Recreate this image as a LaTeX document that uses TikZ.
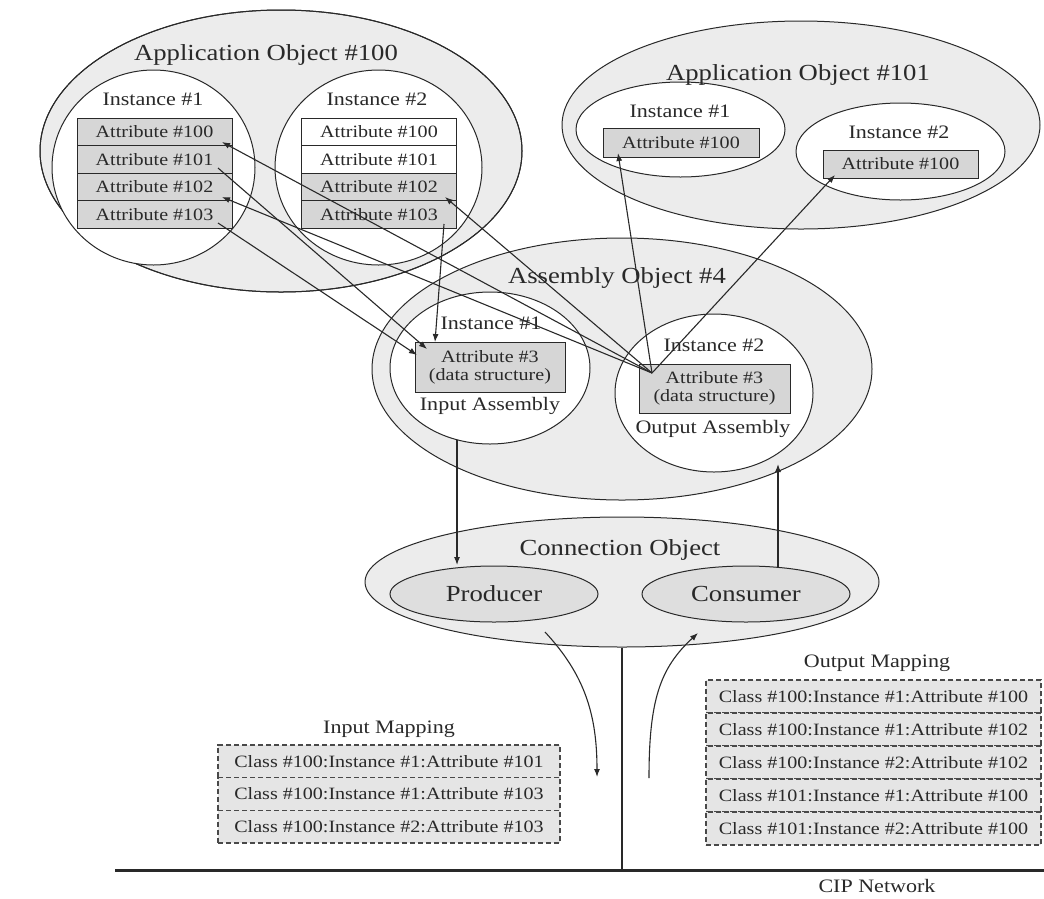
\documentclass[tikz,border=0pt]{standalone}
\usepackage{fontspec}
\setmainfont{Liberation Serif}[FakeStretch=1.16]
\usetikzlibrary{arrows.meta,shapes.geometric}
\definecolor{ink}{gray}{0.16}
\definecolor{objfill}{gray}{0.925}
\definecolor{attrfill}{gray}{0.84}
\definecolor{endfill}{gray}{0.87}
\definecolor{mapfill}{gray}{0.9}
\newcommand{\titlesize}{\fontsize{23}{26}\selectfont}
\newcommand{\labelsize}{\fontsize{19}{22}\selectfont}
\newcommand{\attrsize}{\fontsize{17.3}{18}\selectfont}

\begin{document}
\begin{tikzpicture}[x=1pt,y=-1pt,
  every node/.style={text=ink},
  obj/.style={ellipse, draw=ink, line width=1pt, fill=objfill, inner sep=0pt},
  inst/.style={ellipse, draw=ink, line width=1pt, fill=white, inner sep=0pt},
  ring/.style={ellipse, draw=ink, line width=1pt, inner sep=0pt},
  endpt/.style={ellipse, draw=ink, line width=1pt, fill=endfill, inner sep=0pt,
    minimum width=208pt, minimum height=56pt, font=\titlesize, text depth=0pt},
  attr/.style={rectangle, draw=ink, line width=1pt, fill=attrfill, minimum width=155pt,
    minimum height=27.5pt, inner sep=0pt, font=\attrsize, text height=11.5pt, text depth=0pt},
  plain/.style={attr, fill=white},
  packed/.style={rectangle, draw=ink, line width=1pt, fill=attrfill, align=center,
    inner sep=0pt, font=\attrsize},
  map/.style={rectangle, draw=ink!85, dash pattern=on 5pt off 3pt, line width=1.2pt,
    fill=mapfill, inner sep=0pt, font=\attrsize, text height=11.5pt, text depth=0pt},
  title/.style={font=\titlesize, anchor=base},
  lbl/.style={font=\labelsize, anchor=base},
  link/.style={draw=ink, line width=1.1pt, -{Latex[length=8pt,width=6pt]}},
]
\useasboundingbox (0,0) rectangle (1044,898);

% ---- object ellipses ----
\node[obj, minimum width=482pt, minimum height=282pt] (app100) at (281,151) {};
\node[obj, minimum width=478pt, minimum height=208pt] (app101) at (801,125) {};
\node[obj, minimum width=500pt, minimum height=262pt] (asm) at (622,369) {};
\node[ring, minimum width=482pt, minimum height=282pt] (app100rim) at (281,151) {};
\node[obj, minimum width=514pt, minimum height=130pt] (conn) at (622,582) {};

% ---- instances ----
\node[inst, minimum width=203pt, minimum height=195pt] (i1) at (153.5,167.5) {};
\node[inst, minimum width=207pt, minimum height=195pt] (i2) at (378.5,167.5) {};
\node[inst, minimum width=209pt, minimum height=95pt] (j1) at (680.5,129.5) {};
\node[inst, minimum width=209pt, minimum height=97pt] (j2) at (900.5,151.5) {};
\node[inst, minimum width=200pt, minimum height=152pt] (k1) at (490,368) {};
\node[inst, minimum width=198pt, minimum height=158pt] (k2) at (714,393) {};

% ---- titles ----
\node[title] (t100) at (266,60) {Application Object \#100};
\node[title] (t101) at (798,80) {Application Object \#101};
\node[title] (tasm) at (617,283) {Assembly Object \#4};
\node[title] (tconn) at (620,555) {Connection Object};

% ---- instance labels ----
\node[lbl] (li1) at (153,105) {Instance \#1};
\node[lbl] (li2) at (377,105) {Instance \#2};
\node[lbl] (lj1) at (680,117) {Instance \#1};
\node[lbl] (lj2) at (899,138) {Instance \#2};
\node[lbl] (lk1) at (491,329) {Instance \#1};
\node[lbl] (lk2) at (714,351) {Instance \#2};
\node[lbl] (lin) at (490,410) {Input Assembly};
\node[lbl] (lout) at (713,433) {Output Assembly};

% ---- attribute tables of Application Object #100 ----
\node[attr]  (a100) at (154.5,132)   {Attribute \#100};
\node[attr]  (a101) at (154.5,159.5) {Attribute \#101};
\node[attr]  (a102) at (154.5,187)   {Attribute \#102};
\node[attr]  (a103) at (154.5,214.5) {Attribute \#103};
\node[plain] (b100) at (379,132)     {Attribute \#100};
\node[plain] (b101) at (379,159.5)   {Attribute \#101};
\node[attr]  (b102) at (379,187)     {Attribute \#102};
\node[attr]  (b103) at (379,214.5)   {Attribute \#103};

% ---- attributes of Application Object #101 ----
\node[attr, minimum width=156pt, minimum height=29pt] (c100) at (681,142.5) {Attribute \#100};
\node[attr, minimum width=155pt, minimum height=28pt] (d100) at (900.5,164) {Attribute \#100};

% ---- assembly data structures ----
\node[packed, minimum width=150pt, minimum height=50pt] (inasm) at (490,367)
  {Attribute \#3\\(data structure)};
\node[packed, minimum width=151pt, minimum height=49pt] (outasm) at (714.5,388.5)
  {Attribute \#3\\(data structure)};

% ---- producer / consumer ----
\node[endpt] (prod) at (494,594) {Producer};
\node[endpt] (cons) at (746,594) {Consumer};

% ---- mapping tables ----
\node[lbl] (inmap) at (389,733) {Input Mapping};
\node[map, minimum width=342pt, minimum height=32.7pt] (m1) at (389,761.3) {Class \#100:Instance \#1:Attribute \#101};
\node[map, minimum width=342pt, minimum height=32.7pt] (m2) at (389,794)   {Class \#100:Instance \#1:Attribute \#103};
\node[map, minimum width=342pt, minimum height=32.7pt] (m3) at (389,826.7) {Class \#100:Instance \#2:Attribute \#103};

\node[lbl] (outmap) at (877,667) {Output Mapping};
\node[map, minimum width=335pt, minimum height=33pt] (n1) at (873.5,696.5) {Class \#100:Instance \#1:Attribute \#100};
\node[map, minimum width=335pt, minimum height=33pt] (n2) at (873.5,729.5) {Class \#100:Instance \#1:Attribute \#102};
\node[map, minimum width=335pt, minimum height=33pt] (n3) at (873.5,762.5) {Class \#100:Instance \#2:Attribute \#102};
\node[map, minimum width=335pt, minimum height=33pt] (n4) at (873.5,795.5) {Class \#101:Instance \#1:Attribute \#100};
\node[map, minimum width=335pt, minimum height=33pt] (n5) at (873.5,828.5) {Class \#101:Instance \#2:Attribute \#100};

% ---- network ----
\coordinate (netL) at (115,870);
\coordinate (netR) at (1044,870);
\draw[line width=3pt, draw=ink] (netL) -- (netR);
\draw[line width=2pt, draw=ink] (conn.south) -- (conn.south |- netL);
\node[lbl] (cip) at (877,892) {CIP Network};

% ---- attribute links ----
\coordinate (outpt) at (652,373);
\coordinate (tA100) at (222,142);
\coordinate (tA102) at (222,197);
\coordinate (tB102) at (445,197);
\coordinate (tC100) at (618,153);
\coordinate (tD100) at (835,175);
\coordinate (sA101) at (218,168);
\coordinate (sA103) at (218,223);
\coordinate (sB103) at (444,224);
\coordinate (hA101) at (427,349);
\coordinate (hA103) at (417,355);
\coordinate (hB103) at (435,342);

\draw[link] (outpt) -- (tA100);
\draw[link] (outpt) -- (tA102);
\draw[link] (outpt) -- (tB102);
\draw[link] (outpt) -- (tC100);
\draw[link] (outpt) -- (tD100);
\draw[link] (sA101) -- (hA101);
\draw[link] (sA103) -- (hA103);
\draw[link] (sB103) -- (hB103);

% ---- assembly <-> connection ----
\coordinate (k1low) at (457,440);
\coordinate (prodtop) at (457,565);
\coordinate (constop) at (778,567);
\coordinate (k2low) at (778,464);
\draw[link] (k1low) -- (prodtop);
\draw[link] (constop) -- (k2low);

% ---- traffic to / from the network ----
\coordinate (sendA) at (545,632);
\coordinate (sendB) at (597,777);
\coordinate (recvA) at (649,778);
\coordinate (recvB) at (698,633);
\draw[link] (sendA) .. controls (585,675) and (597,715) .. (sendB);
\draw[link] (recvA) .. controls (649,700) and (660,668) .. (recvB);
\end{tikzpicture}
\end{document}
